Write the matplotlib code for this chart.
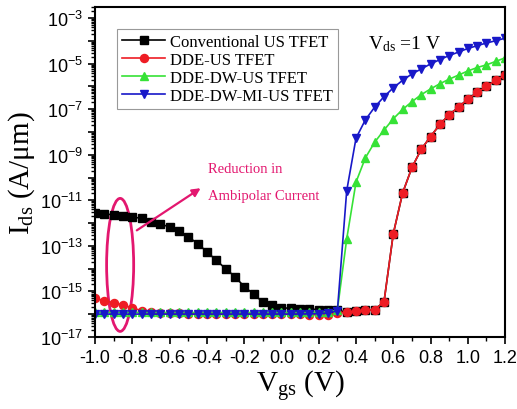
import numpy as np
import matplotlib
matplotlib.use("Agg")
from matplotlib import pyplot as plt
from matplotlib import ticker
from matplotlib.patches import Ellipse

plt.rcParams['font.family'] = ['Liberation Sans', 'DejaVu Sans']
plt.rcParams['mathtext.fontset'] = 'custom'
plt.rcParams['mathtext.rm'] = 'Liberation Serif'
plt.rcParams['mathtext.it'] = 'Liberation Serif:italic'

# gate voltage sweep, 0.05 V steps
vgs = np.round(np.arange(-1.0, 1.2001, 0.05), 2)

# log10 of drain current (A/um)
log_conv = [-11.56, -11.60, -11.64, -11.68, -11.74, -11.79, -11.94, -12.05, -12.17, -12.36,
            -12.60, -12.91, -13.26, -13.64, -14.00, -14.36, -14.79, -15.12, -15.47, -15.62,
            -15.73, -15.74, -15.77, -15.78, -15.80, -15.81, -15.83, -15.92, -15.88, -15.84,
            -15.80, -15.47, -12.47, -10.68, -9.56, -8.76, -8.20, -7.67, -7.24, -6.91,
            -6.56, -6.26, -6.00, -5.73, -5.50]
log_dde = [-15.30, -15.42, -15.50, -15.60, -15.73, -15.85, -15.92, -15.95, -15.97, -15.97,
           -15.98, -15.98, -15.98, -15.98, -15.99, -15.99, -15.99, -16.00, -16.00, -16.00,
           -16.00, -16.01, -16.01, -16.02, -16.03, -16.02, -15.95, -15.92, -15.88, -15.84,
           -15.80, -15.47, -12.47, -10.68, -9.56, -8.76, -8.20, -7.67, -7.24, -6.91,
           -6.56, -6.26, -6.00, -5.73, -5.50]
log_dw = [-15.93, -15.93, -15.93, -15.93, -15.93, -15.93, -15.93, -15.93, -15.93, -15.93,
          -15.93, -15.93, -15.93, -15.93, -15.93, -15.93, -15.93, -15.93, -15.93, -15.93,
          -15.93, -15.93, -15.92, -15.92, -15.91, -15.90, -15.82, -12.70, -10.20, -9.14,
          -8.45, -7.92, -7.42, -7.01, -6.67, -6.36, -6.11, -5.88, -5.68, -5.50,
          -5.32, -5.17, -5.05, -4.90, -4.74]
log_mi = [-16.00, -16.00, -16.00, -16.00, -16.00, -16.00, -16.00, -16.00, -16.00, -16.00,
          -16.00, -16.00, -16.00, -16.00, -16.00, -16.00, -16.00, -16.00, -16.00, -16.00,
          -16.00, -16.00, -16.00, -15.99, -15.98, -15.96, -15.85, -10.58, -8.27, -7.47,
          -6.91, -6.45, -6.06, -5.73, -5.45, -5.23, -5.01, -4.82, -4.64, -4.49,
          -4.33, -4.21, -4.09, -3.99, -3.88]

series = [
    ("Conventional US TFET", log_conv, "black", "s"),
    ("DDE-US TFET", log_dde, "#ee1c24", "o"),
    ("DDE-DW-US TFET", log_dw, "#36e236", "^"),
    ("DDE-DW-MI-US TFET", log_mi, "#1818c8", "v"),
]

pink = "#e3176f"

fig = plt.figure(figsize=(5.17, 4.10), dpi=100)
ax = fig.add_axes([0.184, 0.176, 0.793, 0.805])

for label, vals, col, mk in series:
    ax.plot(vgs, 10.0 ** np.array(vals), color=col, marker=mk, markersize=5.8,
            linewidth=1.2, label=label)

ax.set_yscale("log")
ax.set_xlim(-1.0, 1.2)
ax.set_ylim(1e-17, 10 ** -2.5)

ax.xaxis.set_major_locator(ticker.MultipleLocator(0.2))
ax.xaxis.set_minor_locator(ticker.MultipleLocator(0.1))
ax.xaxis.set_major_formatter(ticker.FormatStrFormatter("%.1f"))
ax.yaxis.set_major_locator(ticker.LogLocator(base=10, numticks=30))
ax.yaxis.set_minor_locator(ticker.LogLocator(base=10, subs=np.arange(2, 10), numticks=30))
ax.yaxis.set_minor_formatter(ticker.NullFormatter())


def ylab(y, pos):
    e = int(round(np.log10(y)))
    if e % 2 == 0:
        return ""
    return r"$\mathdefault{10^{%d}}$" % e


ax.yaxis.set_major_formatter(ticker.FuncFormatter(ylab))
ax.tick_params(axis="both", which="major", direction="out", length=5, width=1.2,
               labelsize=13)
ax.tick_params(axis="both", which="minor", direction="out", length=3, width=1.0)
for sp in ax.spines.values():
    sp.set_linewidth(1.5)

ax.set_xlabel(r"V$_{\mathrm{gs}}$ (V)", fontsize=21, family="Liberation Serif", labelpad=2)
ax.set_ylabel(r"I$_{\mathrm{ds}}$ (A/μm)", fontsize=21, family="Liberation Serif", labelpad=2)

leg = ax.legend(loc="upper left", bbox_to_anchor=(0.053, 0.932),
                prop={"family": "Liberation Serif", "size": 12},
                fancybox=False, edgecolor="gray", handlelength=2.6, borderpad=0.3,
                labelspacing=0.12, handletextpad=0.3, borderaxespad=0)
leg.get_frame().set_linewidth(0.8)

ax.text(0.665, 0.89, r"V$_{\mathrm{ds}}$ =1 V", transform=ax.transAxes, fontsize=14,
        family="Liberation Serif", va="center")

ax.text(0.276, 0.509, "Reduction in", transform=ax.transAxes, fontsize=10.5,
        family="Liberation Serif", color=pink, va="center")
ax.text(0.276, 0.427, "Ambipolar Current", transform=ax.transAxes, fontsize=10.5,
        family="Liberation Serif", color=pink, va="center")
ax.annotate("", xy=(0.263, 0.455), xytext=(0.096, 0.318), xycoords="axes fraction",
            arrowprops=dict(arrowstyle="-|>", color=pink, lw=1.6, mutation_scale=12))
ax.add_patch(Ellipse((0.061, 0.218), 0.066, 0.403, transform=ax.transAxes,
                     fill=False, edgecolor=pink, linewidth=2))

plt.savefig("out.png", dpi=100)
